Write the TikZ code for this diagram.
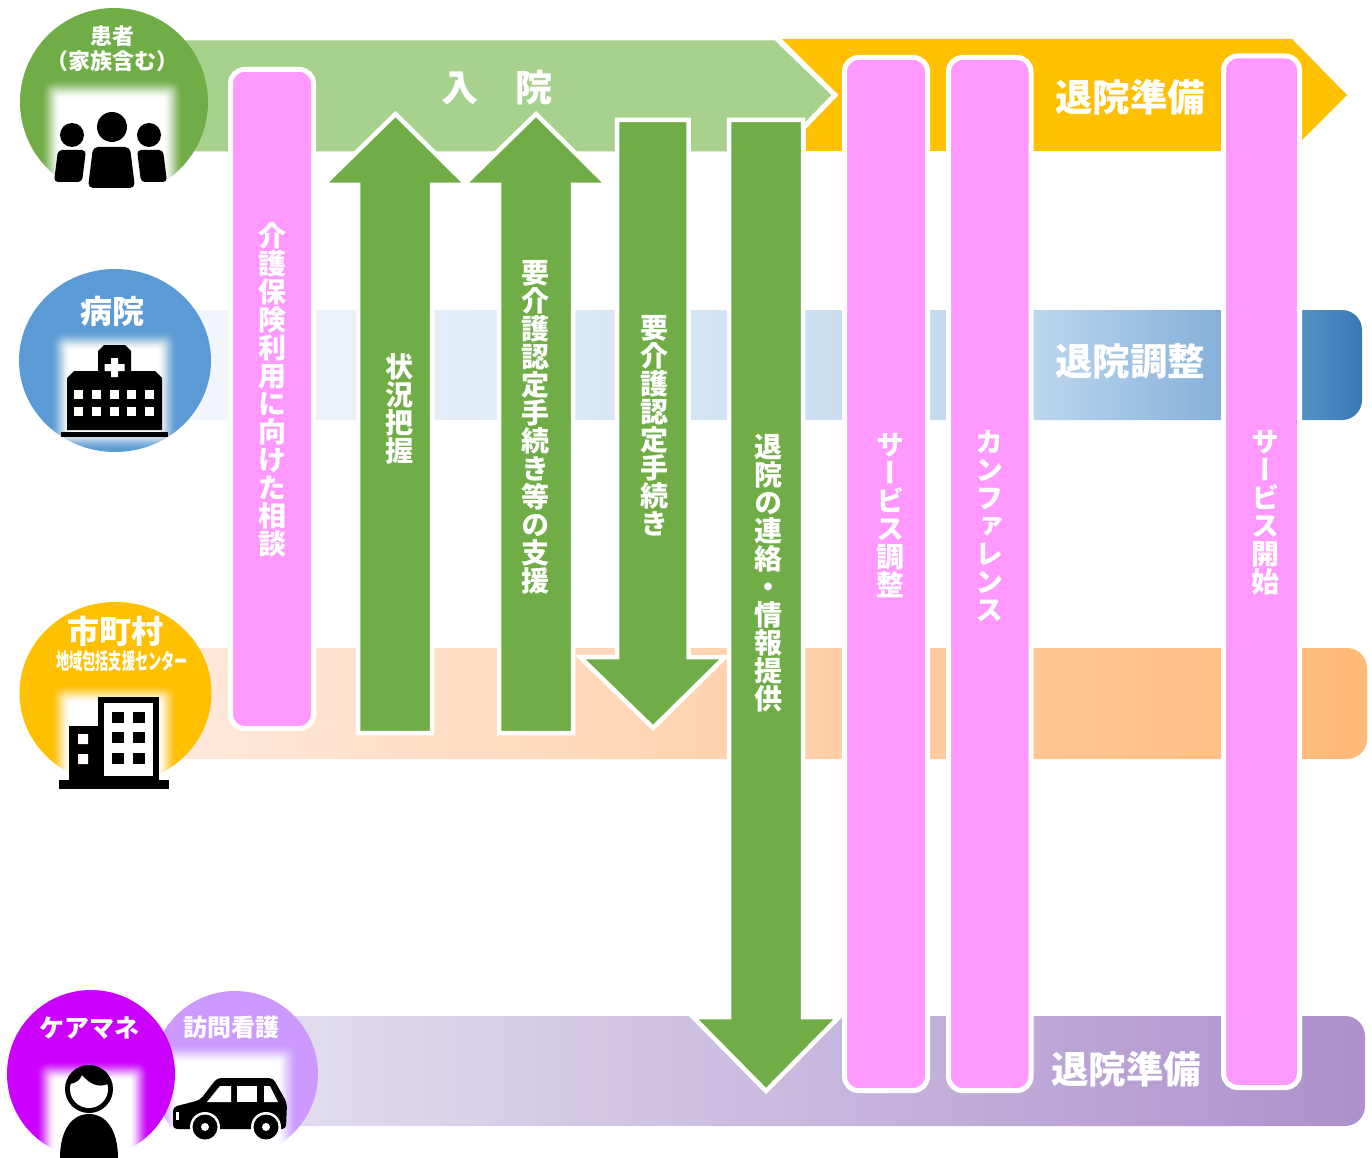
\documentclass[tikz,border=0pt]{standalone}
\usepackage{fontspec}
\setmainfont{Noto Sans CJK JP}
\newfontfamily\jpv{Noto Sans CJK JP}[Vertical=Alternates]
\usetikzlibrary{shadings}
\definecolor{gDark}{HTML}{70AD47}
\definecolor{gLight}{HTML}{A9D18E}
\definecolor{amber}{HTML}{FFC000}
\definecolor{pinkbar}{HTML}{FF99FF}
\definecolor{bl0}{HTML}{F3F7FC}
\definecolor{bl1}{HTML}{D2E3F3}
\definecolor{bl2}{HTML}{BED6ED}
\definecolor{bl3}{HTML}{85B0DA}
\definecolor{bl4}{HTML}{5590C8}
\definecolor{bl5}{HTML}{3878B4}
\definecolor{or0}{HTML}{FFE8DC}
\definecolor{or1}{HTML}{FFB978}
\definecolor{pu0}{HTML}{E2DDEE}
\definecolor{pu1}{HTML}{AD90CC}
\definecolor{cBlue}{HTML}{5B9BD5}
\definecolor{cMag}{HTML}{CC00FF}
\definecolor{cLil}{HTML}{CC99FF}
\pgfdeclarehorizontalshading{blueband}{100bp}{color(0bp)=(bl0); color(25bp)=(bl0); color(48bp)=(bl1); color(61bp)=(bl2); color(69bp)=(bl3); color(72.5bp)=(bl4); color(75bp)=(bl5); color(100bp)=(bl5)}
\tikzset{
  arrowshape/.style={fill=gDark,draw=white,line width=4.5pt,line join=miter,miter limit=10},
  pinkshape/.style={fill=pinkbar,draw=white,line width=5pt,rounded corners=14pt},
  vlabel/.style={text=white,font=\jpv\bfseries\fontsize{#1}{#1}\selectfont,inner sep=0pt},
  hlabel/.style={text=white,font=\bfseries\fontsize{#1}{#1}\selectfont,inner sep=0pt},
}
\makeatletter
\newcommand{\vstack}[1]{\vbox{\offinterlineskip\@tfor\vch:=#1\do{\hbox to 1em{\vrule height .88em depth .12em width 0pt\hss\vch\hss}}}}
\makeatother
% white glow with a smooth (smoothstep) edge profile, 20 units wide
\newcommand{\softglow}[4]{%
  \foreach \i in {1,...,25}{%
    \pgfmathsetmacro{\tb}{(\i-1)/25}%
    \pgfmathsetmacro{\tc}{\i/25}%
    \pgfmathsetmacro{\Tb}{\tb*\tb*(3-2*\tb)}%
    \pgfmathsetmacro{\Tc}{\tc*\tc*(3-2*\tc)}%
    \pgfmathsetmacro{\al}{(\Tc-\Tb)/(1-\Tb)}%
    \pgfmathsetmacro{\rr}{max(2,12-\i*0.4)}%
    \fill[white,opacity=\al,rounded corners=\rr pt] ({#1+\i*0.8},{#2+\i*0.8}) rectangle ({#3-\i*0.8},{#4-\i*0.8});
  }%
}
\begin{document}
\begin{tikzpicture}[x=1pt,y=-1pt]
\useasboundingbox (0,0) rectangle (1372,1158);
% bands
\shade[shading=blueband] (185,310) [rounded corners=20pt] -- (1362,310) -- (1362,420) [rounded corners=0pt] -- (185,420) -- cycle;
\shade[left color=or0,right color=or1] (180,648) [rounded corners=20pt] -- (1367,648) -- (1367,759) [rounded corners=0pt] -- (180,759) -- cycle;
\shade[left color=pu0,right color=pu1] (290,1016) [rounded corners=20pt] -- (1365,1016) -- (1365,1126) [rounded corners=0pt] -- (290,1126) -- cycle;
% chevrons
\fill[amber] (782,39) -- (1292,39) -- (1347,95) -- (1291,151) -- (806,151) -- (806,120) -- (838,95) -- cycle;
\fill[gLight,draw=white,line width=5pt,line join=miter] (180,38) -- (776,38) -- (835,95) -- (778,154) -- (180,154) -- cycle;
\fill[white] (170,30) rectangle (180,38);
\fill[white] (170,154) rectangle (185,160);
% arrows
\path[arrowshape] (358,733) -- (358,185) -- (323,185) -- (395.5,114) -- (467,185) -- (432,185) -- (432,733) -- cycle;
\path[arrowshape] (499,733) -- (499,185) -- (463.5,185) -- (536,114) -- (607.5,185) -- (573,185) -- (573,733) -- cycle;
\path[arrowshape] (617,120) -- (688.5,120) -- (688.5,657) -- (725,657) -- (653,728) -- (580,657) -- (617,657) -- cycle;
\path[arrowshape] (729,120) -- (803,120) -- (803,1017) -- (839,1017) -- (766,1091) -- (693,1017) -- (729,1017) -- cycle;
% pink bars
\path[pinkshape] (230.5,69.5) rectangle (313.5,728.5);
\path[pinkshape] (844.5,57.5) rectangle (927.5,1090.5);
\path[pinkshape] (948.5,57.5) rectangle (1031,1090.5);
\path[pinkshape] (1223.5,56) rectangle (1299.5,1087.5);
% band / chevron labels
\node[hlabel=37] (nyuin) at (497,88) {入　院};
\node[hlabel=37.5] (junbiA) at (1130,97) {退院準備};
\node[hlabel=37.5] (chosei) at (1130,361) {退院調整};
\node[hlabel=37.5] (junbiB) at (1126,1069) {退院準備};
% vertical labels
\node[vlabel=28] (v1) at (272,390) {\vstack{介護保険利用に向けた相談}};
\node[vlabel=28] (v2) at (399,409) {\vstack{状況把握}};
\node[vlabel=28] (v3) at (535,427) {\vstack{要介護認定手続き等の支援}};
\node[vlabel=28] (v4) at (654,426) {\vstack{要介護認定手続き}};
\node[vlabel=28] (v5) at (768,573) {\vstack{退院の連絡・情報提供}};
\node[vlabel=28] (v6) at (890,515) {\vstack{サービス調整}};
\node[vlabel=28] (v7) at (989,526) {\vstack{カンファレンス}};
\node[vlabel=28] (v8) at (1265,512) {\vstack{サービス開始}};
% patient circle
\fill[gDark] (114,102) circle[radius=94];
\softglow{40}{78}{184}{230}
\fill[black] (112,127) circle[radius=15] (72,135) circle[radius=12] (149,135) circle[radius=12];
\fill[black,rounded corners=5pt] (88,188) -- (93,147) -- (130,147) -- (135,188) -- cycle;
\fill[black,rounded corners=4pt] (54,182) -- (58,150) -- (86,150) -- (82,182) -- cycle;
\fill[black,rounded corners=4pt] (141,182) -- (137,150) -- (163,150) -- (167,182) -- cycle;
\node[hlabel=22] (p1) at (112,36) {患者};
\node[hlabel=22] (p2) at (112,61) {（家族含む）};
% hospital circle
\fill[cBlue] (115,360.5) ellipse[x radius=96,y radius=91.5];
\softglow{50}{330}{178}{451}
\fill[black] (67,430) -- (67,378) -- (74,371) -- (98,371) -- (98,351) -- (104,345) -- (125,345) -- (131,351) -- (131,371) -- (155,371) -- (162,378) -- (162,430) -- cycle;
\fill[black] (61,431.5) rectangle (168,437);
\fill[white] (111,358) rectangle (118,377) (104.5,364) rectangle (124.5,371);
\foreach \wx in {74,92,109.5,127,145}{
  \fill[white] (\wx,390) rectangle ++(9,9);
  \fill[white] (\wx,407) rectangle ++(9,9);
}
\node[hlabel=32] (h1) at (112,311) {病院};
% municipal circle
\fill[amber] (115.5,693) ellipse[x radius=96,y radius=91];
\softglow{50}{683}{178}{825}
\fill[black] (98,780) -- (98,697) -- (159,697) -- (159,780) -- cycle;
\fill[black] (69,780) rectangle (98,726);
\fill[black] (59,780) rectangle (169,789);
\fill[white] (104,703) rectangle (153,776);
\foreach \wy in {712,732,753}{
  \fill[black] (112,\wy) rectangle ++(12,11);
  \fill[black] (133,\wy) rectangle ++(12,11);
}
\fill[white] (78,734) rectangle (88,744) (78,754) rectangle (88,764);
\node[hlabel=32] (m1) at (115,631) {市町村};
\node[hlabel=22,xscale=0.6] (m2) at (122,661) {地域包括支援センター};
% nurse circle
\fill[cLil] (235,1074) circle[radius=83];
\softglow{158}{1043}{298}{1190}
\fill[black,rounded corners=4pt] (173,1129) -- (173,1107) -- (200,1100) -- (217,1078) -- (273,1078) -- (287,1103) -- (286,1129) -- cycle;
\fill[white] (207,1102) -- (220,1086) -- (231,1086) -- (231,1102) -- cycle;
\fill[white] (237,1086) rectangle (257,1102);
\fill[white] (264,1086) -- (270,1086) -- (278,1102) -- (264,1102) -- cycle;
\fill[white] (176,1112) rectangle (179,1120);
\foreach \cx in {205,266}{
  \fill[white] (\cx,1127) circle[radius=15];
  \fill[black] (\cx,1127) circle[radius=12.5];
  \fill[white] (\cx,1127) circle[radius=4];
}
\node[hlabel=24] (n1) at (231,1027) {訪問看護};
% care manager circle
\fill[cMag] (91,1074) circle[radius=84];
\softglow{35}{1060}{150}{1190}
\fill[black] (89,1089) circle[radius=24];
\fill[white] (89,1089) circle[radius=19];
\fill[black] (70,1084) .. controls (74,1064) and (104,1064) .. (108,1084) .. controls (98,1088) and (90,1084) .. (82,1075) .. controls (80,1080) and (76,1083) .. (70,1084) -- cycle;
\fill[black] (60,1158) .. controls (60,1130) and (72,1114) .. (89,1114) .. controls (106,1114) and (118,1130) .. (118,1158) -- cycle;
\node[hlabel=25] (c1) at (89,1028) {ケアマネ};
\end{tikzpicture}
\end{document}
